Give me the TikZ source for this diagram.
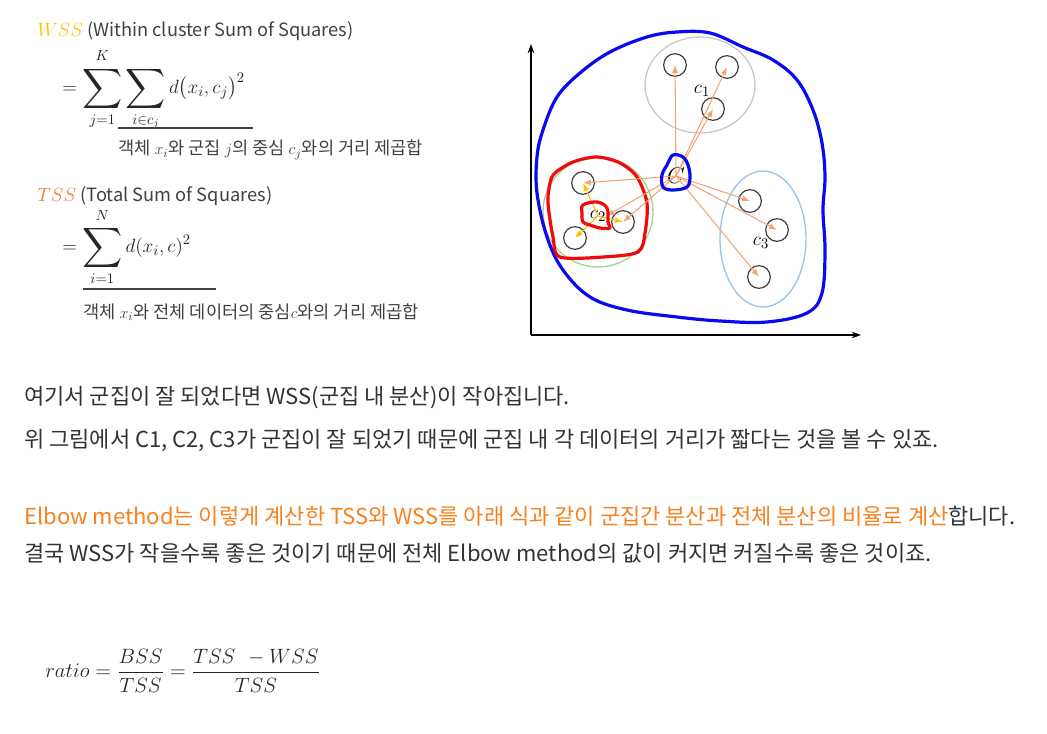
\documentclass[tikz,border=0pt]{standalone}
\usepackage{fontspec}
\setmainfont{Noto Sans CJK KR}
\usepackage{amsmath}
\usepackage{graphicx}
\usetikzlibrary{arrows.meta}

\definecolor{wssyellow}{HTML}{FFC000}
\definecolor{tssorange}{HTML}{ED7D31}
\definecolor{txtorange}{HTML}{F7811E}
\definecolor{arrorange}{HTML}{F4A474}
\definecolor{bodygray}{HTML}{333333}
\definecolor{headgray}{HTML}{404040}
\definecolor{blobblue}{HTML}{0A0AF0}
\definecolor{blobred}{HTML}{F00A0A}
\definecolor{cluone}{HTML}{C8C8C8}
\definecolor{clutwo}{HTML}{A9D18E}
\definecolor{cluthree}{HTML}{9DC3E6}

\newcommand{\bigsum}{\mathop{\vcenter{\hbox{\scalebox{1.45}{$\displaystyle\sum$}}}}\limits}
\newcommand{\uplim}[1]{{#1\rule[-2.5pt]{0pt}{0pt}}}
\newcommand{\lowlim}[1]{{\rule{0pt}{8pt}#1}}

\tikzset{
  bodytxt/.style={anchor=west,inner sep=0,text=bodygray,font=\fontsize{16.5}{19}\selectfont},
  headtxt/.style={anchor=west,inner sep=0,text=headgray,font=\fontsize{13.7}{16}\selectfont},
  captxt/.style={anchor=west,inner sep=0,text=headgray,font=\fontsize{13.2}{15}\selectfont},
  mathtxt/.style={anchor=west,inner sep=0,text=black!85,font=\fontsize{15.5}{18}\selectfont},
  datapt/.style={circle,draw=black!75,line width=0.9pt,minimum size=17pt,inner sep=0},
  toC/.style={draw=arrorange,line width=0.8pt,-{Latex[length=6pt,width=4.5pt]}},
  toctwo/.style={draw=wssyellow,line width=0.8pt,-{Latex[length=6pt,width=4.5pt]}},
  blob/.style={line width=2.4pt,line join=round}
}

\begin{document}
\begin{tikzpicture}[x=0.75pt,y=-0.75pt]
\useasboundingbox (0,0) rectangle (1047,734);

% WSS
\node[headtxt] (wsshead) at (37,31) {\textcolor{wssyellow}{$WSS$} (Within cluster Sum of Squares)};
\node[mathtxt] (wssform) at (62,90) {$\displaystyle = \bigsum_{\lowlim{j=1}}^{\uplim{K}}\bigsum_{\lowlim{i\in c_j}} d\bigl(x_i,c_j\bigr)^2$};
\draw[headgray,line width=0.8pt] (118,128) -- (253,128);
\node[captxt] (wsscap) at (118,150) {객체 $x_i$와 군집 $j$의 중심 $c_j$와의 거리 제곱합};

% TSS
\node[headtxt] (tsshead) at (37,196) {\textcolor{tssorange}{$TSS$} (Total Sum of Squares)};
\node[mathtxt] (tssform) at (62,247) {$\displaystyle = \bigsum_{\lowlim{i=1}}^{\uplim{N}} d(x_i,c)^2$};
\draw[headgray,line width=0.8pt] (83,289) -- (216,289);
\node[captxt] (tsscap) at (83,312) {객체 $x_i$와 전체 데이터의 중심$c$와의 거리 제곱합};

% axes
\coordinate (orig) at (531,335);
\draw[line width=0.8pt,-{Stealth[length=7pt,width=5pt]}] (orig) -- (531,44);
\draw[line width=0.8pt,-{Stealth[length=7pt,width=5pt]}] (orig) -- (861,335);

% cluster outlines
\draw[cluone,line width=1pt] (700,85) ellipse [x radius=55,y radius=48];
\draw[clutwo,line width=1pt] (598,212) circle [radius=55];
\draw[cluthree,line width=1pt] (763,239) ellipse [x radius=43,y radius=68];

% big blue blob
\draw[blobblue,blob] plot[smooth cycle,tension=0.6] coordinates {
  (543,130) (557,97) (580,73) (610,52) (647,37) (677,32) (710,33) (743,47)
  (773,60) (797,80) (813,110) (822,143) (825,177) (823,210) (825,250)
  (822,293) (807,313) (767,322) (720,321) (677,317) (627,310) (590,297)
  (563,270) (547,237) (537,193) (537,157)};

% red blob
\draw[blobred,blob] plot[smooth cycle,tension=0.5] coordinates {
  (555,173) (573,162) (597,157) (620,163) (637,177) (647,203) (645,233)
  (638,252) (603,257) (560,257) (553,237) (548,203) (550,183)};

% data points
\node[datapt] (p1a) at (675,65) {};
\node[datapt] (p1b) at (727,67) {};
\node[datapt] (p1c) at (713,109) {};
\node[datapt] (p2a) at (583,183) {};
\node[datapt] (p2b) at (623,222) {};
\node[datapt] (p2c) at (575,238) {};
\node[datapt] (p3a) at (750,201) {};
\node[datapt] (p3b) at (777,230) {};
\node[datapt] (p3c) at (759,277) {};

% centroids
\node[inner sep=0,font=\fontsize{19}{19}\selectfont] (cC) at (676,176) {$C$};
\node[inner sep=0,font=\fontsize{15}{15}\selectfont] (cone) at (702,91) {$c_1$};
\node[inner sep=0,font=\fontsize{15}{15}\selectfont] (ctwo) at (598,216) {$c_2$};
\node[inner sep=0,font=\fontsize{15}{15}\selectfont] (cthree) at (761,243) {$c_3$};

% arrows from C
\foreach \p in {p1a,p1b,p1c,p2a,p2b,p3a,p3b,p3c}
  \draw[toC] (cC.center) -- (\p.center);
\draw[toC] (cC.center) -- (ctwo.east);
\foreach \p in {p2a,p2b,p2c}
  \draw[toctwo] (ctwo.center) -- (\p.center);

% small blobs
\draw[blobblue,blob] plot[smooth cycle,tension=0.6] coordinates {
  (667,165) (673,155) (683,157) (688,165) (690,177) (687,187) (673,190) (663,187) (662,175)};
\draw[blobred,blob] plot[smooth cycle,tension=0.6] coordinates {
  (583,205) (597,202) (607,208) (608,222) (610,228) (600,228) (590,225) (583,222) (582,213)};

% body text
\node[bodytxt] (line1) at (24,398) {여기서 군집이 잘 되었다면 WSS(군집 내 분산)이 작아집니다.};
\node[bodytxt] (line2) at (24,440) {위 그림에서 C1, C2, C3가 군집이 잘 되었기 때문에 군집 내 각 데이터의 거리가 짧다는 것을 볼 수 있죠.};
\node[bodytxt] (line3) at (24,516) {\textcolor{txtorange}{Elbow method는 이렇게 계산한 TSS와 WSS를 아래 식과 같이 군집간 분산과 전체 분산의 비율로 계산}합니다.};
\node[bodytxt] (line4) at (24,553) {결국 WSS가 작을수록 좋은 것이기 때문에 전체 Elbow method의 값이 커지면 커질수록 좋은 것이죠.};

% ratio
\node[mathtxt,font=\fontsize{15.2}{18}\selectfont] (ratio) at (45,671) {\scalebox{1.08}{$\displaystyle ratio = \frac{BSS}{TSS} = \frac{TSS\ \,-WSS}{TSS}$}};

\end{tikzpicture}
\end{document}
